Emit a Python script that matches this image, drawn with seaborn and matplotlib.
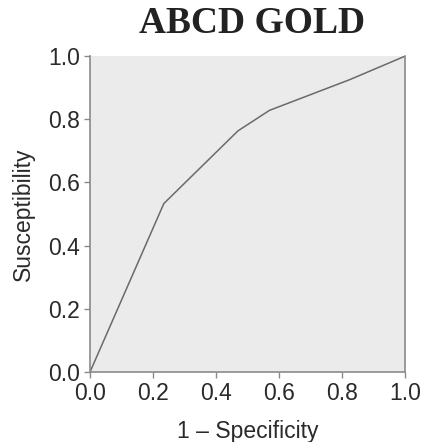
import matplotlib
matplotlib.use("Agg")
import matplotlib.pyplot as plt
import seaborn as sns
import pandas as pd

# ROC curve points
fpr = [0.0, 0.234, 0.469, 0.569, 0.823, 1.0]
tpr = [0.0, 0.533, 0.763, 0.828, 0.925, 1.0]
ticks = [0.0, 0.2, 0.4, 0.6, 0.8, 1.0]
tick_labels = ["0.0", "0.2", "0.4", "0.6", "0.8", "1.0"]

df = pd.DataFrame({"fpr": fpr, "tpr": tpr})

sns.set_style("ticks")
plt.rcParams["font.family"] = ["Liberation Sans", "DejaVu Sans"]

fig = plt.figure(figsize=(4.21, 4.42), dpi=100)
ax = fig.add_axes([0.2138, 0.1584, 0.7492, 0.7149])
ax.set_facecolor("#ebebeb")

sns.lineplot(data=df, x="fpr", y="tpr", ax=ax, color="#6a6a6a",
             linewidth=1.1, sort=False, estimator=None)

ax.set_xlim(0, 1)
ax.set_ylim(0, 1)
ax.set_xticks(ticks)
ax.set_yticks(ticks)
ax.set_xticklabels(tick_labels)
ax.set_yticklabels(tick_labels)
ax.tick_params(labelsize=16.5, colors="#8a8a8a", labelcolor="#2a2a2a",
               length=4, width=1.0, pad=3)

for side in ["left", "bottom", "right"]:
    ax.spines[side].set_color("#8a8a8a")
    ax.spines[side].set_linewidth(1.2)
ax.spines["top"].set_visible(False)

ax.set_xlabel("1 \u2013 Specificity", fontsize=16.5, color="#2a2a2a", labelpad=11)
ax.set_ylabel("Susceptibility", fontsize=16.5, color="#2a2a2a", labelpad=10)

fig.text(0.598, 0.925, "ABCD GOLD", ha="center", va="baseline",
         fontsize=27, fontweight="bold", family="Liberation Serif", color="#222222")

fig.savefig("out.png", dpi=100)
